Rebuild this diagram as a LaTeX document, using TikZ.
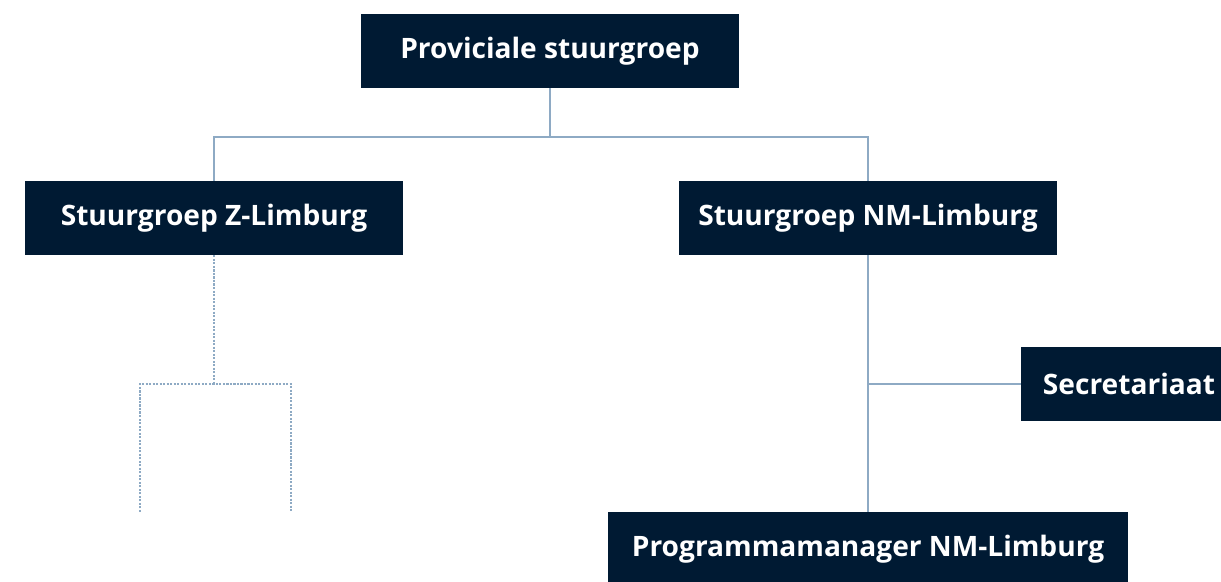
\documentclass[tikz,border=0pt]{standalone}
\usepackage{fontspec}
\setmainfont{Open Sans}
\usetikzlibrary{positioning, calc}
\definecolor{cnavy}{HTML}{001A33}
\definecolor{cline}{HTML}{8EAAC4}
\tikzset{
  every picture/.style={font=\fontsize{16}{19}\selectfont\bfseries},
  orgbox/.style={fill=cnavy, text=white, inner sep=0pt, minimum height=1.48cm, minimum width=#1},
  orgbox/.default=7.56cm,
  link/.style={draw=cline, line width=0.6pt},
  dotlink/.style={draw=cline, line width=0.6pt, dash pattern=on 1.2pt off 0.8pt},
}

\begin{document}
\begin{tikzpicture}
  \useasboundingbox (0,0) rectangle (24.42,-11.62);
  \clip (0,0) rectangle (24.42,-11.62);
  % boxes
  \node[orgbox] (prov) at (11.0,-1.02) {Proviciale stuurgroep};
  \node[orgbox] (zl) at (4.28,-4.36) {Stuurgroep Z-Limburg};
  \node[orgbox] (nm) at (17.36,-4.36) {Stuurgroep NM-Limburg};
  \node[orgbox=4.32cm] (sec) at (22.58,-7.68) {Secretariaat};
  \node[orgbox=10.4cm] (pm) at (17.36,-10.98) {Programmamanager NM-Limburg};
  % connectors
  \coordinate (bus) at (0,-2.74);
  \draw[link] (prov) -- (prov |- bus) -| (zl);
  \draw[link] (prov |- bus) -| (nm);
  \draw[link] (nm) -- (pm);
  \draw[link] (nm |- sec) -- (sec);
  % Z-Limburg, open branch
  \coordinate (zsplit) at (zl |- sec);
  \coordinate (zleft) at (2.8,-10.24);
  \coordinate (zright) at (5.82,-10.24);
  \draw[dotlink] (zl) -- (zsplit);
  \draw[dotlink] (zleft) |- (zsplit) -| (zright);
\end{tikzpicture}
\end{document}
